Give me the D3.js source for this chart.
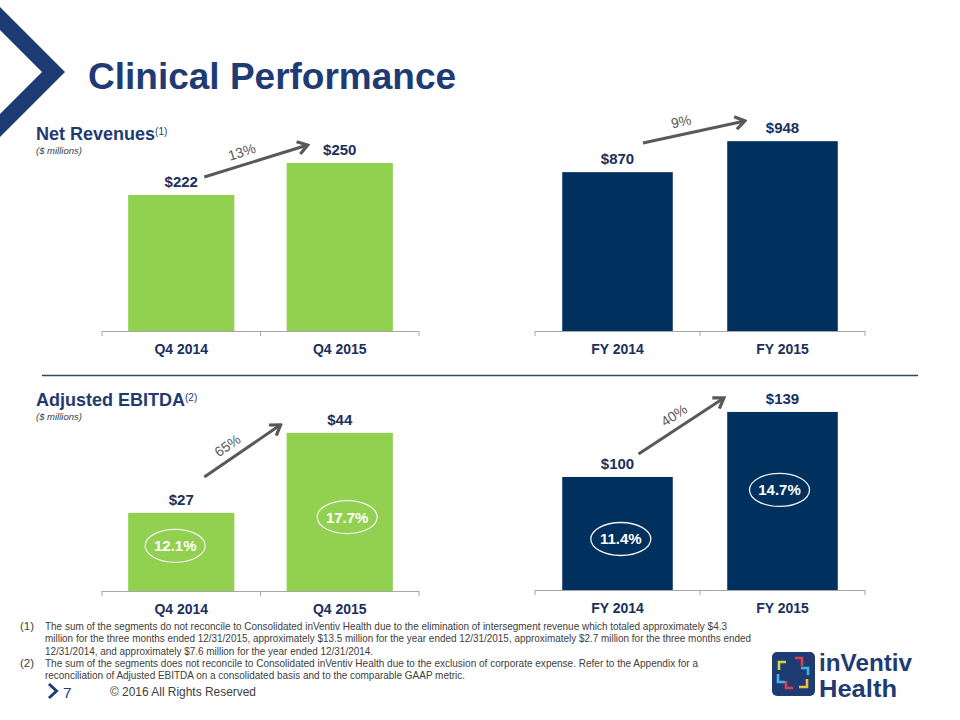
<!DOCTYPE html>
<html>
<head>
<meta charset="utf-8">
<script src="https://cdn.jsdelivr.net/npm/d3@7/dist/d3.min.js"></script>
<style>
html,body{margin:0;padding:0;background:#fff;}
svg{display:block;font-family:"Liberation Sans",Arial,Helvetica,sans-serif;}
</style>
</head>
<body>
<svg id="chart" width="960" height="720"></svg>
<script>
// ---------------- DATA ----------------
const quarterCategories = ["Q4 2014", "Q4 2015"];
const yearCategories = ["FY 2014", "FY 2015"];
const revenueQuarter = [222, 250];
const revenueYear = [870, 948];
const ebitdaQuarter = [27, 44];
const ebitdaYear = [100, 139];
const marginQuarter = ["12.1%", "17.7%"];
const marginYear = ["11.4%", "14.7%"];
const growthLabels = ["13%", "9%", "65%", "40%"];
const footnote1 = [
  "The sum of the segments do not reconcile to Consolidated  inVentiv Health due to the elimination of intersegment revenue which totaled approximately $4.3",
  "million for the three months ended  12/31/2015, approximately $13.5 million for the year ended 12/31/2015, approximately $2.7 million for the three months ended",
  "12/31/2014, and approximately $7.6 million for the year ended 12/31/2014."
];
const footnote2 = [
  "The sum of the segments does not reconcile to Consolidated inVentiv Health due to the exclusion of corporate expense.  Refer to the Appendix for a",
  "reconciliation of Adjusted EBITDA on a consolidated basis and to the comparable GAAP metric."
];

// ---------------- STYLE / LAYOUT ----------------
const NAVY = "#1f3b73", BAR_NAVY = "#00305e", GREEN = "#92d050";
const LABEL = "#1b2f5e", GRAY = "#595959", TEXT = "#404040";

const svg = d3.select("#chart");

// chevron
svg.append("path")
  .attr("d", "M0,7 L65,72 L0,137 L0,114 L42,72 L0,30 Z")
  .attr("fill", NAVY);

svg.append("text").attr("x", 88).attr("y", 89)
  .attr("font-size", 37).attr("font-weight", "bold").attr("fill", NAVY)
  .text("Clinical Performance");

function header(y, title, sup) {
  const t = svg.append("text").attr("x", 36).attr("y", y)
    .attr("font-size", 18).attr("font-weight", "bold").attr("fill", NAVY);
  t.append("tspan").text(title);
  t.append("tspan").attr("font-size", 10).attr("font-weight", "normal").attr("dy", -5).text(sup);
  svg.append("text").attr("x", 36).attr("y", y + 14)
    .attr("font-size", 9.5).attr("font-style", "italic").attr("fill", TEXT)
    .text("($ millions)");
}
header(140, "Net Revenues", "(1)");
header(406, "Adjusted EBITDA", "(2)");

// separator
svg.append("line").attr("x1", 42).attr("x2", 918).attr("y1", 375.5).attr("y2", 375.5)
  .attr("stroke", "#2c4a68").attr("stroke-width", 1.5);

// arrow marker
svg.append("defs").append("marker")
  .attr("id", "arr").attr("markerUnits", "userSpaceOnUse")
  .attr("viewBox", "0 0 14 14").attr("refX", 12).attr("refY", 7)
  .attr("markerWidth", 15).attr("markerHeight", 15).attr("orient", "auto")
  .append("path").attr("d", "M3,1 L12,7 L3,13")
  .attr("fill", "none").attr("stroke", GRAY).attr("stroke-width", 3)
  .attr("stroke-linejoin", "miter");

function panel(cfg) {
  const x = d3.scaleBand().domain(cfg.cats).range(cfg.xr)
    .paddingInner(0.33).paddingOuter(0.165);
  const y = d3.scaleLinear().domain(cfg.dom).range([cfg.base, cfg.top]);
  const g = svg.append("g");
  const data = cfg.cats.map((c, i) => ({c, v: cfg.vals[i], m: cfg.margins ? cfg.margins[i] : null, i}));

  g.selectAll("rect.bar").data(data).enter().append("rect")
    .attr("class", "bar")
    .attr("x", d => x(d.c)).attr("width", x.bandwidth())
    .attr("y", d => y(d.v)).attr("height", d => cfg.base - y(d.v))
    .attr("fill", cfg.color);

  // axis
  const ax = g.append("g").attr("transform", `translate(0,${cfg.base})`)
    .call(d3.axisBottom(x).tickSize(0).tickPadding(0));
  ax.select(".domain").remove();
  ax.selectAll("text").attr("y", 23).attr("dy", 0)
    .attr("font-family", "Liberation Sans,Arial,sans-serif")
    .attr("font-size", 14).attr("font-weight", "bold").attr("fill", LABEL);
  g.append("line").attr("x1", cfg.xr[0]).attr("x2", cfg.xr[1])
    .attr("y1", cfg.base + 0.5).attr("y2", cfg.base + 0.5)
    .attr("stroke", "#a6a6a6").attr("stroke-width", 1);
  const step = x.step();
  g.selectAll("line.tick").data(d3.range(cfg.cats.length + 1)).enter().append("line")
    .attr("x1", i => cfg.xr[0] + i * step).attr("x2", i => cfg.xr[0] + i * step)
    .attr("y1", cfg.base).attr("y2", cfg.base + 5)
    .attr("stroke", "#a6a6a6").attr("stroke-width", 1);

  // value labels
  g.selectAll("text.val").data(data).enter().append("text")
    .attr("x", d => x(d.c) + x.bandwidth() / 2)
    .attr("y", d => y(d.v) - 8)
    .attr("text-anchor", "middle").attr("font-size", 15).attr("font-weight", "bold")
    .attr("fill", LABEL).text(d => "$" + d.v);

  // margin ellipses
  if (cfg.margins) {
    const eg = g.selectAll("g.m").data(data).enter().append("g")
      .attr("transform", d => `translate(${x(d.c) + x.bandwidth() * (0.5 + cfg.ell[d.i][0])},${y(cfg.ell[d.i][1])})`);
    eg.append("ellipse").attr("rx", 30).attr("ry", 16.5)
      .attr("fill", "none").attr("stroke", "#f2f2f2").attr("stroke-width", 1.3);
    eg.append("text").attr("text-anchor", "middle").attr("dy", 5.5)
      .attr("font-size", 15).attr("font-weight", "bold").attr("fill", "#fff")
      .text(d => d.m);
  }

  // growth arrow
  const a = cfg.arrow;
  const x1 = x(cfg.cats[0]) + x.bandwidth() * a.from[0], y1 = y(a.from[1]);
  const x2 = x(cfg.cats[1]) + x.bandwidth() * a.to[0], y2 = y(a.to[1]);
  g.append("line").attr("x1", x1).attr("y1", y1).attr("x2", x2).attr("y2", y2)
    .attr("stroke", GRAY).attr("stroke-width", 3).attr("marker-end", "url(#arr)");
  const len = Math.hypot(x2 - x1, y2 - y1), ux = (x2 - x1) / len, uy = (y2 - y1) / len;
  const nx = uy, ny = -ux; // upward normal
  const lx = x1 + (x2 - x1) * a.t + nx * 13, ly = y1 + (y2 - y1) * a.t + ny * 13;
  const ang = Math.atan2(y2 - y1, x2 - x1) * 180 / Math.PI;
  g.append("text").attr("transform", `translate(${lx},${ly}) rotate(${ang})`)
    .attr("text-anchor", "middle").attr("dy", 5)
    .attr("font-size", 14).attr("fill", GRAY).text(a.label);
}

panel({cats: quarterCategories, vals: revenueQuarter, xr: [102, 419], base: 331,
  dom: [103, 270], top: 140.1, color: GREEN,
  arrow: {from: [0.717, 237.7], to: [0.198, 265.7], t: 0.4, label: growthLabels[0]}});
panel({cats: yearCategories, vals: revenueYear, xr: [535, 865], base: 331,
  dom: [470, 990], top: 124.5, color: BAR_NAVY,
  arrow: {from: [0.73, 943.5], to: [0.16, 999], t: 0.4, label: growthLabels[1]}});
panel({cats: quarterCategories, vals: ebitdaQuarter, xr: [102, 419], base: 591,
  dom: [10.4, 50], top: 404.6, color: GREEN, margins: marginQuarter,
  ell: [[-0.057, 20.0], [0.07, 26.1]],
  arrow: {from: [0.717, 34.6], to: [-0.057, 45.7], t: 0.4, label: growthLabels[2]}});
panel({cats: yearCategories, vals: ebitdaYear, xr: [535, 865], base: 590,
  dom: [32.2, 150], top: 393.6, color: BAR_NAVY, margins: marginYear,
  ell: [[0.03, 62.8], [-0.027, 92.2]],
  arrow: {from: [0.69, 113.8], to: [-0.03, 147.4], t: 0.5, label: growthLabels[3]}});

// footnotes
const fnFont = "'Liberation Sans Narrow','Arial Narrow','Liberation Sans',Arial,sans-serif";
const fnLines = [
  {num: "(1)", s: footnote1[0], y: 630, w: 682},
  {num: "", s: footnote1[1], y: 642.3, w: 706},
  {num: "", s: footnote1[2], y: 654.6, w: 328},
  {num: "(2)", s: footnote2[0], y: 667, w: 653},
  {num: "", s: footnote2[1], y: 679.3, w: 420}
];
fnLines.forEach(l => {
  if (l.num) svg.append("text").attr("x", 20).attr("y", l.y).attr("font-size", 11.5)
    .attr("font-family", fnFont).attr("fill", TEXT).text(l.num);
  svg.append("text").attr("x", 45).attr("y", l.y).attr("font-size", 11.5)
    .attr("font-family", fnFont).attr("fill", TEXT)
    .attr("textLength", l.w).attr("lengthAdjust", "spacingAndGlyphs").text(l.s);
});

// page footer
svg.append("path").attr("d", "M49,684 L56.5,691 L49,698").attr("fill", "none")
  .attr("stroke", NAVY).attr("stroke-width", 3);
svg.append("text").attr("x", 63).attr("y", 697.5).attr("font-size", 15.5)
  .attr("font-family", fnFont).attr("fill", NAVY).text("7");
svg.append("text").attr("x", 110).attr("y", 696).attr("font-size", 13)
  .attr("font-family", fnFont).attr("fill", TEXT)
  .attr("textLength", 146).attr("lengthAdjust", "spacingAndGlyphs")
  .text("© 2016 All Rights Reserved");

// logo
const logo = svg.append("g");
logo.append("rect").attr("x", 772).attr("y", 652).attr("width", 43).attr("height", 44)
  .attr("rx", 5).attr("fill", NAVY);
const br = [
  {d: "M779,670 V662 H786", c: "#c8d84a"},
  {d: "M795,658 H802 V666", c: "#e0404e"},
  {d: "M801,668 H808 V675", c: "#3fb6e6"},
  {d: "M778,674 V682 H785", c: "#3fb6e6"},
  {d: "M786,681 V688 H793", c: "#e0404e"},
  {d: "M807,679 V687 H799", c: "#e8c23a"}
];
logo.selectAll("path").data(br).enter().append("path")
  .attr("d", d => d.d).attr("fill", "none").attr("stroke", d => d.c).attr("stroke-width", 2.6);
logo.append("text").attr("x", 819).attr("y", 671).attr("font-size", 23).attr("font-weight", "bold")
  .attr("fill", NAVY).attr("textLength", 93).attr("lengthAdjust", "spacingAndGlyphs").text("inVentiv");
logo.append("text").attr("x", 819).attr("y", 697).attr("font-size", 23).attr("font-weight", "bold")
  .attr("fill", NAVY).attr("textLength", 78).attr("lengthAdjust", "spacingAndGlyphs").text("Health");
</script>
</body>
</html>
